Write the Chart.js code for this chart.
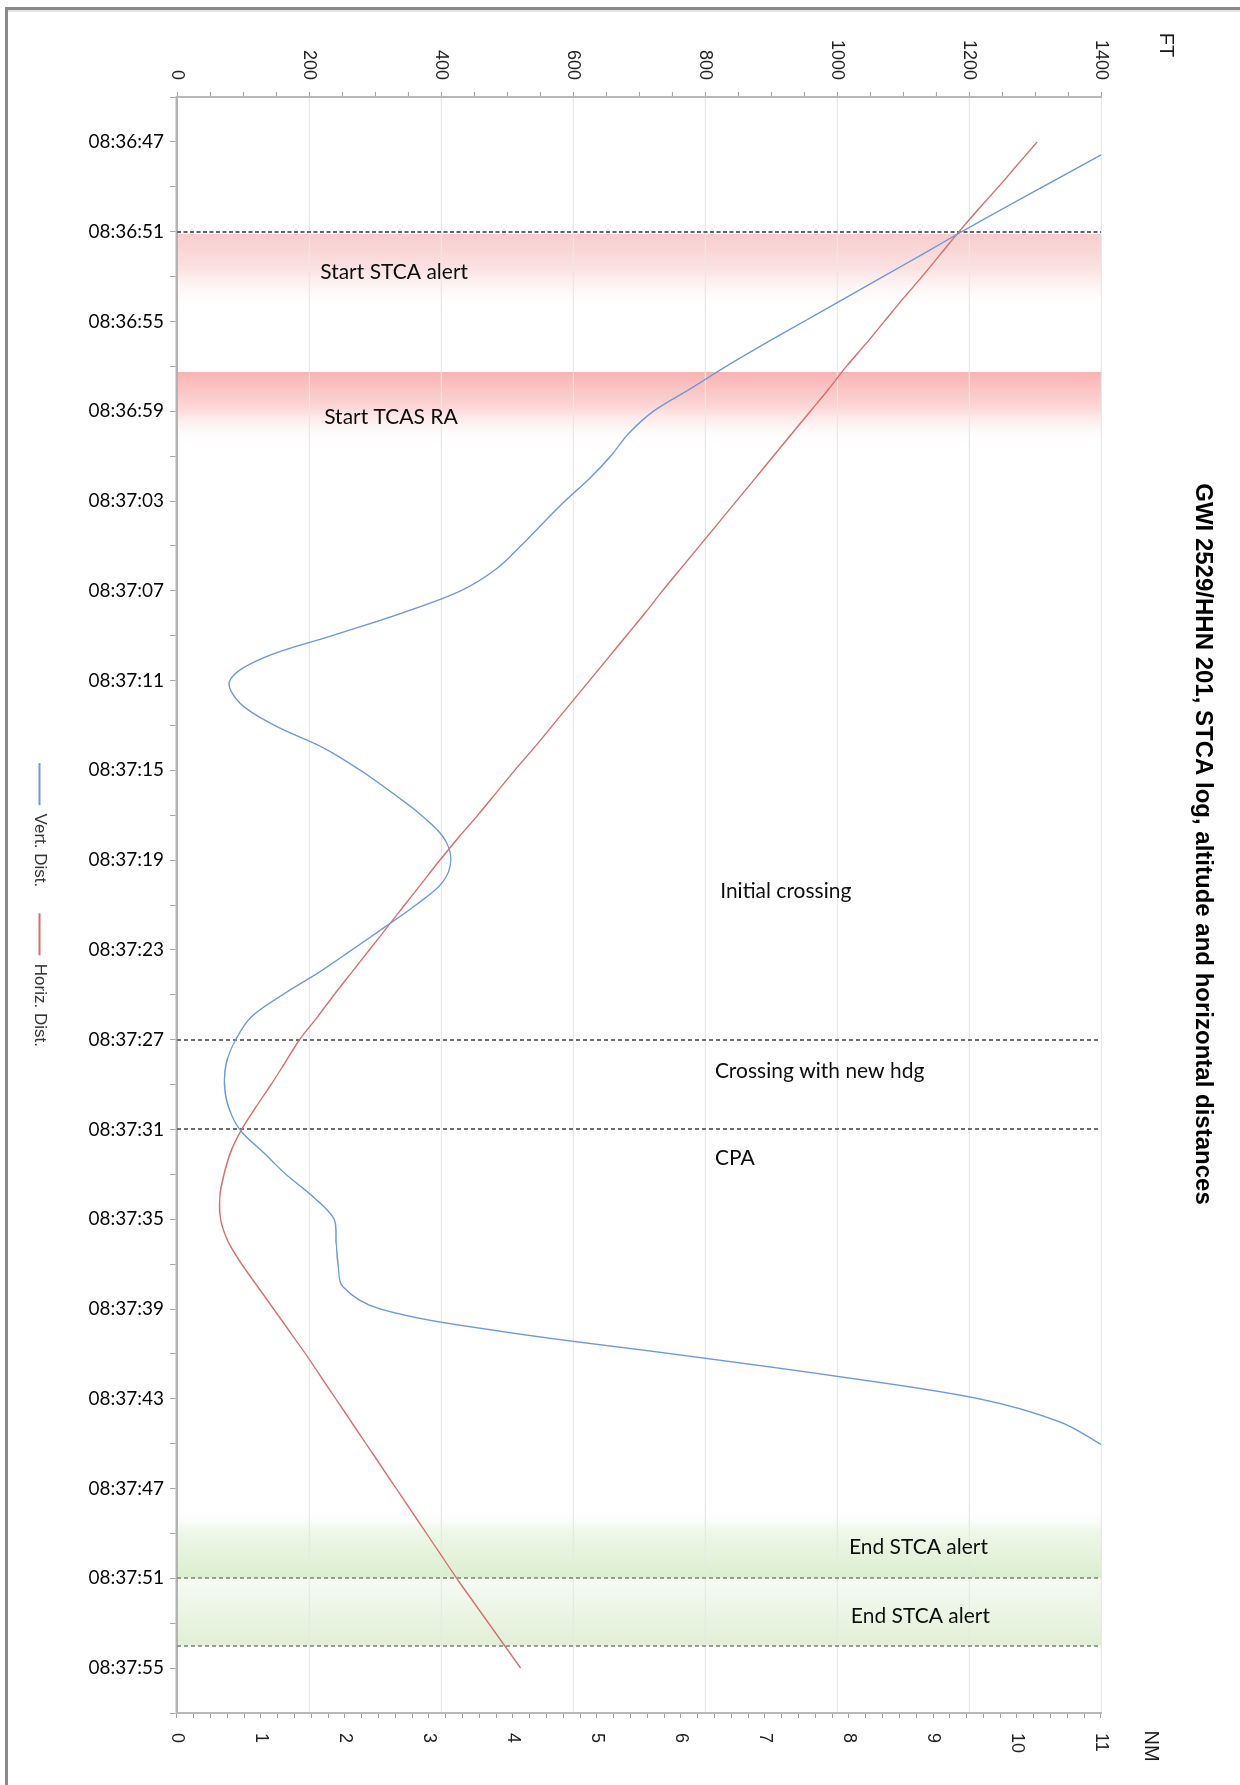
<!DOCTYPE html>
<html>
<head>
<meta charset="utf-8">
<title>GWI 2529/HHN 201, STCA log</title>
<script src="https://cdn.jsdelivr.net/npm/chart.js@4.4.1/dist/chart.umd.min.js"></script>
<style>
  html, body { margin: 0; padding: 0; width: 1240px; height: 1785px; overflow: hidden; background: #fff; }
  #frame { position: absolute; left: 5px; top: 7px; width: 1240px; height: 1785px;
           border-top: 3px solid #8a8a8a; border-left: 3px solid #8a8a8a;
           box-shadow: inset 0 2px 0 #e4e4e4; }
  /* the chart is laid out landscape and turned a quarter turn clockwise */
  #turn { position: absolute; left: 0; top: 0; width: 1785px; height: 1240px;
          transform-origin: 0 0; transform: translate(1240px, 0) rotate(90deg); }
  canvas { display: block; }
</style>
</head>
<body>
<div id="frame"></div>
<div id="turn"><canvas id="chart" width="1785" height="1240"></canvas></div>
<script>
// ---- data -------------------------------------------------------------
const times = [
  '08:36:47','08:36:48','08:36:49','08:36:50','08:36:51','08:36:52','08:36:53','08:36:54','08:36:55','08:36:56',
  '08:36:57','08:36:58','08:36:59','08:37:00','08:37:01','08:37:02','08:37:03','08:37:04','08:37:05','08:37:06',
  '08:37:07','08:37:08','08:37:09','08:37:10','08:37:11','08:37:12','08:37:13','08:37:14','08:37:15','08:37:16',
  '08:37:17','08:37:18','08:37:19','08:37:20','08:37:21','08:37:22','08:37:23','08:37:24','08:37:25','08:37:26',
  '08:37:27','08:37:28','08:37:29','08:37:30','08:37:31','08:37:32','08:37:33','08:37:34','08:37:35','08:37:36',
  '08:37:37','08:37:38','08:37:39','08:37:40','08:37:41','08:37:42','08:37:43','08:37:44','08:37:45','08:37:46',
  '08:37:47','08:37:48','08:37:49','08:37:50','08:37:51','08:37:52','08:37:53','08:37:54','08:37:55'
];

// vertical separation, feet
const vertDistFt = [
  1436, 1374, 1312, 1250, 1189, 1130, 1070, 1010, 950, 890,
  832, 778, 722, 684, 657, 625, 588, 554, 521, 485,
  430, 340, 235, 130, 80, 95, 148, 222, 278, 326,
  370, 404, 415, 402, 362, 314, 265, 215, 160, 112,
  89, 75, 72, 78, 95, 130, 165, 206, 238, 241,
  244, 251, 308, 492, 750, 1000, 1215, 1335, 1398, 1450
];

// horizontal separation, nautical miles
const horizDistNm = [
  10.24, 10.01, 9.78, 9.54, 9.31, 9.09, 8.87, 8.64, 8.42, 8.20,
  7.97, 7.76, 7.54, 7.32, 7.10, 6.88, 6.66, 6.44, 6.22, 6.00,
  5.78, 5.57, 5.35, 5.13, 4.91, 4.69, 4.47, 4.25, 4.02, 3.80,
  3.58, 3.35, 3.13, 2.92, 2.71, 2.50, 2.29, 2.08, 1.87, 1.67,
  1.46, 1.29, 1.12, 0.94, 0.77, 0.64, 0.56, 0.51, 0.52, 0.61,
  0.77, 0.96, 1.15, 1.34, 1.53, 1.71, 1.89, 2.07, 2.25, 2.43,
  2.61, 2.79, 2.97, 3.15, 3.33, 3.52, 3.71, 3.90, 4.09
];

const seriesNames = ['Vert. Dist.', 'Horiz. Dist.'];
const timeTickLabels = ['08:36:47','08:36:51','08:36:55','08:36:59','08:37:03','08:37:07','08:37:11','08:37:15',
  '08:37:19','08:37:23','08:37:27','08:37:31','08:37:35','08:37:39','08:37:43','08:37:47','08:37:51','08:37:55'];
const ftTickLabels = ['0','200','400','600','800','1000','1200','1400'];
const nmTickLabels = ['0','1','2','3','4','5','6','7','8','9','10','11'];
const markerTimes = ['08:36:51','08:37:27','08:37:31','08:37:51','08:37:54'];
const noteTexts = ['Start STCA alert','Start TCAS RA','Initial crossing','Crossing with new hdg','CPA','End STCA alert','End STCA alert'];
const titleText = 'GWI 2529/HHN 201, STCA log, altitude and horizontal distances';
const axisStart = '08:36:45';
const axisEnd = '08:37:57';

// ---- helpers ----------------------------------------------------------
function toSec(s) {
  const p = s.split(':');
  return (+p[0]) * 3600 + (+p[1]) * 60 + parseFloat(p[2]);
}
function fmtTime(v) {
  const s = Math.round(v);
  const h = Math.floor(s / 3600), m = Math.floor((s % 3600) / 60), r = s % 60;
  const two = n => String(n).padStart(2, '0');
  return two(h) + ':' + two(m) + ':' + two(r);
}

// ---- decorations: alert bands, event lines, notes, titles ---------------
const bands = [
  { from: '08:36:51.1', to: '08:36:54.6', stops: [[0, '#f8cdcd'], [0.45, '#fbe2e2'], [1, 'rgba(255,255,255,0)']] },
  { from: '08:36:57.25', to: '08:37:00.5', stops: [[0, '#f9b3b3'], [0.5, '#fcd8d8'], [1, 'rgba(255,255,255,0)']] },
  { from: '08:37:47.8', to: '08:37:51', stops: [[0, 'rgba(255,255,255,0)'], [0.35, '#eef7e9'], [1, '#dbeecf']] },
  { from: '08:37:51.05', to: '08:37:54', stops: [[0, '#f6faf3'], [1, '#e0efd6']] }
];
const markerStyles = [
  { color: '#666666', width: 2, dash: [4, 2.5] },
  { color: '#6e6e6e', width: 2, dash: [4, 3] },
  { color: '#6e6e6e', width: 2, dash: [4, 3] },
  { color: '#7f8c77', width: 1.6, dash: [4, 3] },
  { color: '#7f8c77', width: 1.6, dash: [4, 3] }
];
const notePlaces = [
  { at: '08:36:52.8', ft: 217 },
  { at: '08:36:59.25', ft: 223 },
  { at: '08:37:20.4', ft: 823 },
  { at: '08:37:28.4', ft: 815 },
  { at: '08:37:32.3', ft: 815 },
  { at: '08:37:49.6', ft: 1018 },
  { at: '08:37:52.7', ft: 1021 }
];

const decorations = {
  id: 'decorations',
  beforeDraw(chart) {
    const { ctx, chartArea: a, scales: { x } } = chart;
    ctx.save();
    bands.forEach(b => {
      const u0 = x.getPixelForValue(toSec(b.from));
      const u1 = x.getPixelForValue(toSec(b.to));
      const g = ctx.createLinearGradient(u0, 0, u1, 0);
      b.stops.forEach(s => g.addColorStop(s[0], s[1]));
      ctx.fillStyle = g;
      ctx.fillRect(u0, a.top, u1 - u0, a.bottom - a.top);
    });
    ctx.restore();
  },
  beforeDatasetsDraw(chart) {
    const { ctx, chartArea: a, scales: { x } } = chart;
    ctx.save();
    markerTimes.forEach((t, i) => {
      const st = markerStyles[i];
      const u = Math.round(x.getPixelForValue(toSec(t)));
      ctx.strokeStyle = st.color;
      ctx.lineWidth = st.width;
      ctx.setLineDash(st.dash);
      ctx.beginPath();
      ctx.moveTo(u, a.bottom);
      ctx.lineTo(u, a.top);
      ctx.stroke();
    });
    ctx.restore();
  },
  afterDatasetsDraw(chart) {
    const { ctx, scales: { x, yFt } } = chart;
    ctx.save();
    ctx.font = '21px Lato';
    ctx.fillStyle = '#0d0d0d';
    ctx.textAlign = 'left';
    ctx.textBaseline = 'middle';
    noteTexts.forEach((txt, i) => {
      const p = notePlaces[i];
      const u = x.getPixelForValue(toSec(p.at));
      const v = yFt.getPixelForValue(p.ft);
      ctx.save();
      ctx.translate(u, v);
      ctx.rotate(-Math.PI / 2);
      ctx.fillText(txt, 0, 0);
      ctx.restore();
    });
    ctx.restore();
  },
  afterDraw(chart) {
    const { ctx } = chart;
    ctx.save();
    ctx.fillStyle = '#000000';
    ctx.textAlign = 'center';
    ctx.textBaseline = 'middle';
    ctx.font = 'bold 24px "Liberation Sans"';
    ctx.fillText(titleText, 844, 37);
    ctx.font = '20px "Liberation Sans"';
    ctx.fillStyle = '#1a1a1a';
    ctx.fillText('FT', 45, 74);
    ctx.fillText('NM', 1746, 89);
    ctx.restore();
  }
};

// ---- chart ------------------------------------------------------------
const valueFont = { family: 'Liberation Sans', size: 18 };

new Chart(document.getElementById('chart'), {
  type: 'line',
  data: {
    datasets: [
      {
        label: seriesNames[0],
        yAxisID: 'yFt',
        data: vertDistFt.map((v, i) => ({ x: toSec(times[i]), y: v })),
        borderColor: '#6d9ad7',
        backgroundColor: '#6d9ad7',
        borderWidth: 1.4,
        pointRadius: 0,
        tension: 0.35
      },
      {
        label: seriesNames[1],
        yAxisID: 'yNm',
        data: horizDistNm.map((v, i) => ({ x: toSec(times[i]), y: v })),
        borderColor: '#d7706c',
        backgroundColor: '#d7706c',
        borderWidth: 1.4,
        pointRadius: 0,
        tension: 0.35
      }
    ]
  },
  options: {
    responsive: false,
    animation: false,
    devicePixelRatio: 1,
    events: [],
    layout: { padding: { top: 139, left: 0, right: 0, bottom: 21 } },
    scales: {
      x: {
        type: 'linear',
        position: 'bottom',
        min: toSec(axisStart),
        max: toSec(axisEnd),
        afterBuildTicks(scale) {
          const ticks = [];
          for (let v = toSec(axisStart); v <= toSec(axisEnd) + 1e-6; v += 2) ticks.push({ value: v });
          scale.ticks = ticks;
        },
        afterFit(scale) { scale.height = 103; },
        ticks: {
          autoSkip: false,
          minRotation: 90,
          maxRotation: 90,
          padding: 6,
          color: '#050505',
          font: { family: 'Lato', size: 19 },
          callback: v => (timeTickLabels.includes(fmtTime(v)) ? fmtTime(v) : '')
        },
        grid: { drawOnChartArea: false, tickLength: 7, tickColor: '#a6a6a6', lineWidth: 1 },
        border: { color: '#b3b3b3', width: 2.5 }
      },
      yFt: {
        type: 'linear',
        position: 'left',
        min: 0,
        max: 1400,
        afterBuildTicks(scale) {
          const ticks = [];
          for (let v = 0; v <= 1400; v += 50) ticks.push({ value: v });
          scale.ticks = ticks;
        },
        afterFit(scale) { scale.width = 97; },
        ticks: {
          autoSkip: false,
          padding: 12,
          color: '#222222',
          font: valueFont,
          callback: v => (ftTickLabels.includes(String(v)) ? String(v) : '')
        },
        grid: {
          color: c => (c.tick && c.tick.value > 0 && ftTickLabels.includes(String(c.tick.value)) ? '#e8e8e8' : 'rgba(0,0,0,0)'),
          lineWidth: 1.2,
          tickLength: 5,
          tickColor: '#9c9c9c',
          tickWidth: 1
        },
        border: { color: '#b8b8b8', width: 2 }
      },
      yNm: {
        type: 'linear',
        position: 'right',
        min: 0,
        max: 11,
        afterBuildTicks(scale) {
          const ticks = [];
          for (let i = 0; i <= 55; i++) ticks.push({ value: i / 5 });
          scale.ticks = ticks;
        },
        afterFit(scale) { scale.width = 72; },
        ticks: {
          autoSkip: false,
          padding: 15,
          color: '#222222',
          font: valueFont,
          callback: v => {
            const r = Math.round(v);
            return Math.abs(v - r) < 1e-6 && nmTickLabels.includes(String(r)) ? String(r) : '';
          }
        },
        grid: { drawOnChartArea: false, tickLength: 5, tickColor: '#9c9c9c', tickWidth: 1 },
        border: { color: '#b8b8b8', width: 2 }
      }
    },
    plugins: {
      title: { display: false },
      tooltip: { enabled: false },
      legend: {
        position: 'bottom',
        fullSize: false,
        labels: {
          boxWidth: 42,
          boxHeight: 2,
          padding: 26,
          color: '#333333',
          font: { family: 'Liberation Sans', size: 17 },
          generateLabels: chart => Chart.defaults.plugins.legend.labels.generateLabels(chart)
            .map(it => Object.assign(it, { lineWidth: 0, fillStyle: it.strokeStyle }))
        }
      }
    }
  },
  plugins: [decorations]
});
</script>
</body>
</html>
